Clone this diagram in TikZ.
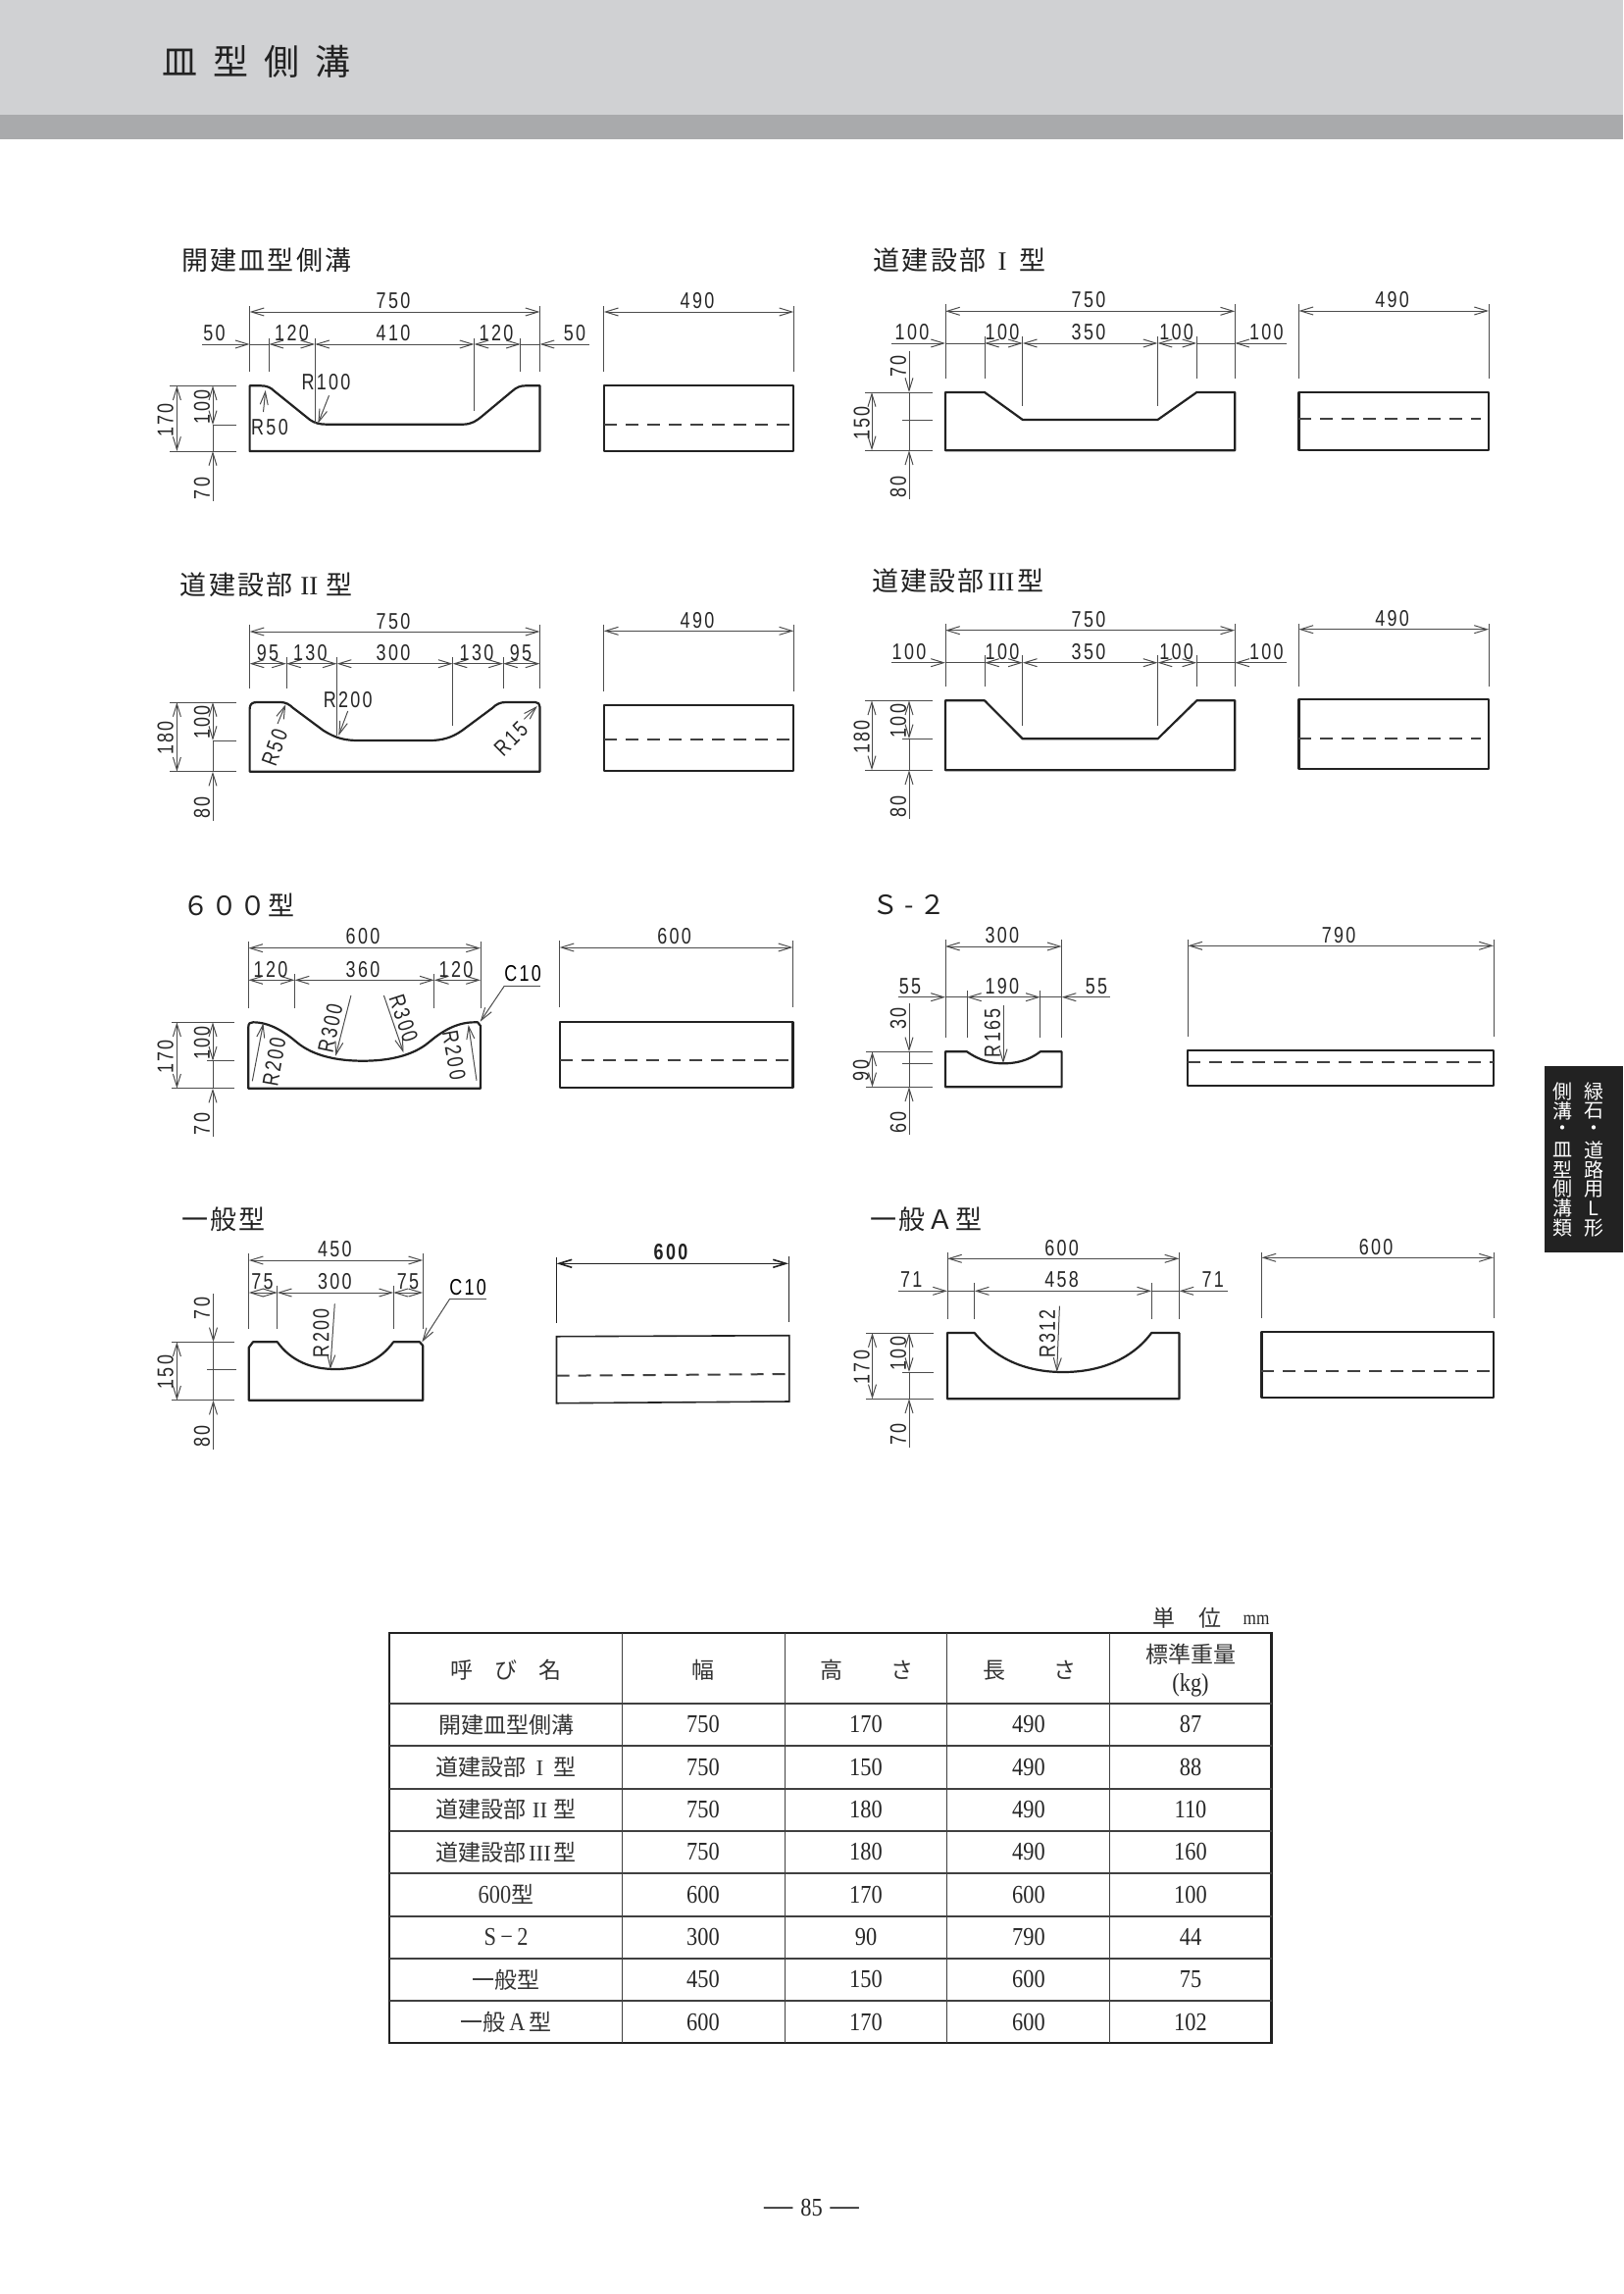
\documentclass[tikz,border=0pt]{standalone}
\usepackage{fontspec}
\usetikzlibrary{arrows.meta}
\newfontfamily\cjkfont{Noto Sans CJK JP}
\newfontfamily\headfont[LetterSpace=8]{Noto Sans CJK JP}
\newfontfamily\titlefont[LetterSpace=44]{Noto Sans CJK JP}
\newfontfamily\dimfont[FakeStretch=0.78,LetterSpace=10]{Liberation Sans}
\newfontfamily\tabfont[FakeStretch=0.86]{Liberation Serif}
\newfontfamily\romanfont{Liberation Serif}
\newcommand{\romnum}[1]{\makebox[1.25em]{\romanfont #1}}
\newcommand{\tabbig}[1]{{\fontsize{13}{13}\tabfont #1}}
\definecolor{BAND1}{HTML}{D0D1D3}
\definecolor{BAND2}{HTML}{A9AAAC}
\definecolor{INK}{HTML}{222222}
\tikzstyle{title} = [anchor=west, inner sep=0, font=\fontsize{18}{18}\titlefont, text=INK]
\tikzstyle{head} = [anchor=west, inner sep=0, font=\fontsize{13.5}{14}\headfont, text=INK]
\tikzstyle{dimtext} = [inner sep=0, font=\fontsize{11.5}{12}\dimfont, text=black!85]
\tikzstyle{tabcjk} = [inner sep=0, font=\fontsize{11.5}{12}\cjkfont, text=black!80]
\tikzstyle{tabnum} = [inner sep=0, font=\fontsize{13}{13}\tabfont, text=black!85]
\tikzstyle{tabtext} = [inner sep=0, font=\fontsize{10}{10}\cjkfont, text=white]
\tikzstyle{profile} = [line width=1.1pt, line join=round, draw=INK]
\tikzstyle{hidden} = [line width=1pt, draw=black!75, dash pattern=on 6.5pt off 4.5pt]
\tikzstyle{dim} = [line width=0.5pt, draw=black!70, >={Straight Barb[length=6.5pt,width=4pt]}]
\tikzstyle{arrow} = [dim, ->]
\tikzstyle{arrows2} = [dim, <->]
\tikzstyle{rule} = [line width=0.7pt, draw=black!75]
\tikzstyle{frame} = [line width=1.2pt, draw=INK]

\begin{document}
\begin{tikzpicture}[x=0.5pt, y=-0.5pt]

\useasboundingbox (0,0) rectangle (1655,2339);

\fill [BAND1] (0,0) rectangle (1655,117);
\fill [BAND2] (0,117) rectangle (1655,142);
\node (pagetitle) [title] at (165.5,63) {皿型側溝};

\fill [INK] (1574.5,1087) rectangle (1655,1277);
\foreach \c [count=\i] in {緑,石,・,道,路,用,L,形}
  \node (tabr\i) [tabtext] at (1625,{1093+19.9*\i}) {\c};
\foreach \c [count=\i] in {側,溝,・,皿,型,側,溝,類}
  \node (tabl\i) [tabtext] at (1593,{1093+19.9*\i}) {\c};

% 開建皿型側溝
\node (ahead) [head] at (185,265) {開建皿型側溝};
\draw [profile] (254.6,460) -- (254.6,393.3) -- (266,393.3) .. controls (272,393.3) and (276,395) .. (280,399) -- (316,428) .. controls (321,431.5) and (326,432.7) .. (333,432.7) -- (472,432.7) .. controls (481,432.7) and (486,429) .. (492,424) -- (522,399) .. controls (527,394.5) and (531,393.3) .. (536,393.3) -- (550.5,393.3) -- (550.5,460) -- cycle;
\draw [profile] (615.8,393.3) rectangle (809.3,460);
\draw [hidden] (615.8,432.5) -- (809.3,432.5);
\draw [dim] (254.6,312) -- (254.6,379);
\draw [dim] (550.5,312) -- (550.5,379);
\draw [dim] (274.3,345) -- (274.3,379);
\draw [dim] (321.2,345) -- (321.2,432);
\draw [dim] (483.5,345) -- (483.5,419);
\draw [dim] (530.8,345) -- (530.8,379);
\draw [dim] (615.8,312) -- (615.8,379);
\draw [dim] (809.3,312) -- (809.3,379);
\draw [arrows2] (254.6,318) -- (550.5,318);
\draw [arrows2] (615.8,318) -- (809.3,318);
\draw [arrow] (206,351) -- (254.6,351);
\draw [dim] (254.6,351) -- (274.3,351);
\draw [arrows2] (274.3,351) -- (321.2,351);
\draw [arrows2] (321.2,351) -- (483.5,351);
\draw [arrows2] (483.5,351) -- (530.8,351);
\draw [dim] (530.8,351) -- (550.5,351);
\draw [arrow] (600.6,351) -- (550.5,351);
\draw [dim] (173,393.3) -- (240.7,393.3);
\draw [dim] (217,433.3) -- (240.7,433.3);
\draw [dim] (173,460) -- (240.7,460);
\draw [arrows2] (180.4,393.3) -- (180.4,460);
\draw [arrows2] (217,393.3) -- (217,433.3);
\draw [dim] (217,433.3) -- (217,460);
\draw [arrow] (217,510.7) -- (217,460);
\draw [arrow] (335.5,403.3) -- (324.3,431.7);
\draw [arrow] (268.5,420) -- (270.7,398);
\node (a750) [dimtext] at (401,306.7) {750};
\node (a490) [dimtext] at (711,306.7) {490};
\node (a50l) [dimtext] at (218.4,340) {50};
\node (a120l) [dimtext] at (297.5,340) {120};
\node (a410) [dimtext] at (401,340) {410};
\node (a120r) [dimtext] at (506,340) {120};
\node (a50r) [dimtext] at (586,340) {50};
\node (a170) [dimtext, rotate=90] at (168.8,428.3) {170};
\node (a100) [dimtext, rotate=90] at (206,415) {100};
\node (a70) [dimtext, rotate=90] at (206,498) {70};
\node (aR100) [dimtext] at (332.4,389.3) {R100};
\node (aR50) [dimtext] at (275,436) {R50};

% 道建設部Ⅰ型
\node (bhead) [head] at (890.4,265) {道建設部\romnum{I}型};
\draw [profile] (964,459.3) -- (964,400) -- (1004,400) -- (1042.8,428) -- (1180.5,428) -- (1220.3,400) -- (1259.2,400) -- (1259.2,459.3) -- cycle;
\draw [profile] (1324.4,400) rectangle (1518,459);
\draw [hidden] (1324.4,427) -- (1510,427);
\draw [dim] (964,310) -- (964,386);
\draw [dim] (1259.2,310) -- (1259.2,386);
\draw [dim] (1004,343) -- (1004,386);
\draw [dim] (1042.8,343) -- (1042.8,414);
\draw [dim] (1180.5,343) -- (1180.5,414);
\draw [dim] (1220.3,343) -- (1220.3,386);
\draw [dim] (1324.4,310) -- (1324.4,386);
\draw [dim] (1518,310) -- (1518,386);
\draw [arrows2] (964,317.3) -- (1259.2,317.3);
\draw [arrows2] (1324.4,317) -- (1518,317);
\draw [arrow] (909,350) -- (964,350);
\draw [dim] (964,350) -- (1004,350);
\draw [arrows2] (1004,350) -- (1042.8,350);
\draw [arrows2] (1042.8,350) -- (1180.5,350);
\draw [arrows2] (1180.5,350) -- (1220.3,350);
\draw [dim] (1220.3,350) -- (1259.2,350);
\draw [arrow] (1311.5,350) -- (1259.2,350);
\draw [dim] (882,400) -- (950.7,400);
\draw [dim] (920,428.3) -- (950.7,428.3);
\draw [dim] (882,459.3) -- (950.7,459.3);
\draw [arrows2] (889,400) -- (889,459.3);
\draw [arrow] (927,358.3) -- (927,400);
\draw [dim] (927,400) -- (927,459.3);
\draw [arrow] (927,509) -- (927,459.3);
\node (b750) [dimtext] at (1110,306) {750};
\node (b490) [dimtext] at (1419.6,306) {490};
\node (b100a) [dimtext] at (930,339) {100};
\node (b100b) [dimtext] at (1022,339) {100};
\node (b350) [dimtext] at (1110,339) {350};
\node (b100c) [dimtext] at (1199.7,339) {100};
\node (b100d) [dimtext] at (1291.4,339) {100};
\node (b150) [dimtext, rotate=90] at (878.8,431.7) {150};
\node (b70) [dimtext, rotate=90] at (916,373.3) {70};
\node (b80) [dimtext, rotate=90] at (916,496.7) {80};

% 道建設部Ⅱ型
\node (chead) [head] at (183.5,596) {道建設部\romnum{II}型};
\draw [profile] (254.6,786.7) -- (254.6,723) .. controls (254.6,718) and (257,716) .. (262,716) -- (286,716) .. controls (291,716) and (295,718) .. (299,722) -- (330,745) .. controls (343,753) and (352,755) .. (366,755) -- (438,755) .. controls (451,755) and (461,752) .. (471,745) -- (502,722) .. controls (506,718) and (510,716) .. (516,716) -- (546,716) .. controls (549,716) and (550.5,718) .. (550.5,721) -- (550.5,786.7) -- cycle;
\draw [profile] (615.8,719) rectangle (809.3,786);
\draw [hidden] (615.8,754) -- (809.3,754);
\draw [dim] (254.6,636.7) -- (254.6,701.7);
\draw [dim] (550.5,636.7) -- (550.5,701.7);
\draw [dim] (292,670) -- (292,701.7);
\draw [dim] (343.6,670) -- (343.6,750);
\draw [dim] (461.6,670) -- (461.6,740);
\draw [dim] (513,670) -- (513,701.7);
\draw [dim] (615.8,636.7) -- (615.8,705);
\draw [dim] (809.3,636.7) -- (809.3,705);
\draw [arrows2] (254.6,644) -- (550.5,644);
\draw [arrows2] (615.8,643.3) -- (809.3,643.3);
\draw [arrows2] (254.6,676.7) -- (292,676.7);
\draw [arrows2] (292,676.7) -- (343.6,676.7);
\draw [arrows2] (343.6,676.7) -- (461.6,676.7);
\draw [arrows2] (461.6,676.7) -- (513,676.7);
\draw [arrows2] (513,676.7) -- (550.5,676.7);
\draw [dim] (173,716) -- (240.7,716);
\draw [dim] (217,755) -- (240.7,755);
\draw [dim] (173,786.7) -- (240.7,786.7);
\draw [arrows2] (180.4,716) -- (180.4,786.7);
\draw [arrows2] (217,716) -- (217,755);
\draw [dim] (217,755) -- (217,786.7);
\draw [arrow] (217,836.7) -- (217,786.7);
\draw [arrow] (354.7,725) -- (345.3,750);
\draw [arrow] (283,738) -- (291.3,718.3);
\draw [arrow] (534.4,733.3) -- (547.8,720);
\node (c750) [dimtext] at (401,633.3) {750};
\node (c490) [dimtext] at (711,632.3) {490};
\node (c95l) [dimtext] at (273,666) {95};
\node (c130l) [dimtext] at (316.3,666) {130};
\node (c300) [dimtext] at (401,666) {300};
\node (c130r) [dimtext] at (486,666) {130};
\node (c95r) [dimtext] at (531,666) {95};
\node (c180) [dimtext, rotate=90] at (168.8,752.3) {180};
\node (c100) [dimtext, rotate=90] at (206,736.7) {100};
\node (c80) [dimtext, rotate=90] at (206,823.3) {80};
\node (cR200) [dimtext] at (354.7,714) {R200};
\node (cR50) [dimtext, rotate=70] at (280,762) {R50};
\node (cR15) [dimtext, rotate=45] at (521,753.3) {R15};

% 道建設部Ⅲ型
\node (dhead) [head] at (889,592.7) {道建設部\romnum{III}型};
\draw [profile] (964,785.3) -- (964,714.3) -- (1004,714.3) -- (1042.8,753.3) -- (1180.5,753.3) -- (1220.3,714.3) -- (1259.2,714.3) -- (1259.2,785.3) -- cycle;
\draw [profile] (1324.4,713.3) rectangle (1518,784.3);
\draw [hidden] (1324.4,752.7) -- (1510,752.7);
\draw [dim] (964,636) -- (964,700);
\draw [dim] (1259.2,636) -- (1259.2,700);
\draw [dim] (1004,668) -- (1004,700);
\draw [dim] (1042.8,668) -- (1042.8,740);
\draw [dim] (1180.5,668) -- (1180.5,740);
\draw [dim] (1220.3,668) -- (1220.3,700);
\draw [dim] (1324.4,636) -- (1324.4,700);
\draw [dim] (1518,636) -- (1518,700);
\draw [arrows2] (964,642.7) -- (1259.2,642.7);
\draw [arrows2] (1324.4,641.7) -- (1518,641.7);
\draw [arrow] (909,675.7) -- (964,675.7);
\draw [dim] (964,675.7) -- (1004,675.7);
\draw [arrows2] (1004,675.7) -- (1042.8,675.7);
\draw [arrows2] (1042.8,675.7) -- (1180.5,675.7);
\draw [arrows2] (1180.5,675.7) -- (1220.3,675.7);
\draw [dim] (1220.3,675.7) -- (1259.2,675.7);
\draw [arrow] (1311.5,675.7) -- (1259.2,675.7);
\draw [dim] (882,714.3) -- (950.7,714.3);
\draw [dim] (920,753.3) -- (950.7,753.3);
\draw [dim] (882,785.3) -- (950.7,785.3);
\draw [arrows2] (889,714.3) -- (889,785.3);
\draw [arrows2] (927,714.3) -- (927,753.3);
\draw [dim] (927,753.3) -- (927,785.3);
\draw [arrow] (927,835) -- (927,785.3);
\node (d750) [dimtext] at (1110,631.7) {750};
\node (d490) [dimtext] at (1419.6,630.3) {490};
\node (d100a) [dimtext] at (927,664.3) {100};
\node (d100b) [dimtext] at (1022,664.3) {100};
\node (d350) [dimtext] at (1110,664.3) {350};
\node (d100c) [dimtext] at (1199.7,664.3) {100};
\node (d100d) [dimtext] at (1291.4,664.3) {100};
\node (d180) [dimtext, rotate=90] at (878.8,751.7) {180};
\node (d100) [dimtext, rotate=90] at (916,735) {100};
\node (d80) [dimtext, rotate=90] at (916,822.3) {80};

% ６００型
\node (ehead) [head] at (186,922.7) {６００型};
\draw [profile] (253.3,1109.7) -- (253.3,1047) .. controls (253.3,1043.5) and (255,1042.3) .. (258,1042.3) .. controls (275,1042.3) and (290,1052) .. (303,1063) .. controls (320,1077) and (345,1081.7) .. (370,1081.7) .. controls (395,1081.7) and (420,1077) .. (437,1063) .. controls (450,1052) and (465,1042.3) .. (484,1042.3) -- (487,1042.3) -- (490,1046) -- (490,1109.7) -- cycle;
\draw [profile] (570.6,1041.7) rectangle (808.4,1109);
\draw [hidden] (570.6,1081) -- (808.4,1081);
\draw [dim] (253.3,960) -- (253.3,1028.3);
\draw [dim] (490,960) -- (490,1028.3);
\draw [dim] (300.6,993.3) -- (300.6,1028.3);
\draw [dim] (442.8,993.3) -- (442.8,1028.3);
\draw [dim] (570.6,959.3) -- (570.6,1027.3);
\draw [dim] (808.4,959.3) -- (808.4,1027.3);
\draw [arrows2] (253.3,966.7) -- (490,966.7);
\draw [arrows2] (570.6,966) -- (808.4,966);
\draw [arrows2] (253.3,999.3) -- (300.6,999.3);
\draw [arrows2] (300.6,999.3) -- (442.8,999.3);
\draw [arrows2] (442.8,999.3) -- (490,999.3);
\draw [dim] (174.6,1042.3) -- (238.5,1042.3);
\draw [dim] (211,1081.7) -- (238.5,1081.7);
\draw [dim] (174.6,1109.7) -- (238.5,1109.7);
\draw [arrows2] (180.4,1042.3) -- (180.4,1109.7);
\draw [arrows2] (217,1042.3) -- (217,1081.7);
\draw [dim] (217,1081.7) -- (217,1109.7);
\draw [arrow] (217,1159) -- (217,1109.7);
\draw [dim] (514.3,1005.3) -- (551,1005.3);
\draw [arrow] (514.3,1005.3) -- (489.7,1041.7);
\draw [arrow] (257.3,1102.3) -- (268.5,1043.3);
\draw [arrow] (357.9,1015) -- (342.2,1076.7);
\draw [arrow] (391.4,1015) -- (411.5,1073.3);
\draw [arrow] (486,1101.7) -- (477.7,1045);
\node (e600a) [dimtext] at (370,955) {600};
\node (e600b) [dimtext] at (687.7,954.3) {600};
\node (e120l) [dimtext] at (276,988.3) {120};
\node (e360) [dimtext] at (370,988.3) {360};
\node (e120r) [dimtext] at (465,988.3) {120};
\node (eC10) [dimtext, text=black] at (533,992.7) {C10};
\node (e170) [dimtext, rotate=90] at (168.8,1077.7) {170};
\node (e100) [dimtext, rotate=90] at (206,1063.3) {100};
\node (e70) [dimtext, rotate=90] at (206,1146) {70};
\node (eR200l) [dimtext, rotate=80] at (279.6,1082.7) {R200};
\node (eR300l) [dimtext, rotate=78] at (336.8,1048.3) {R300};
\node (eR300r) [dimtext, rotate=-72] at (411.5,1038.3) {R300};
\node (eR200r) [dimtext, rotate=-80] at (463,1076) {R200};

% Ｓ－２
\node (fhead) [head] at (889,923) {Ｓ\hspace{3pt}-\hspace{3pt}\makebox[1em]{２}};
\draw [profile] (964,1108.3) -- (964,1072.3) -- (986,1072.3) .. controls (1000,1082) and (1012,1084.3) .. (1023,1084.3) .. controls (1035,1084.3) and (1048,1082) .. (1060.7,1072.3) -- (1082.6,1072.3) -- (1082.6,1108.3) -- cycle;
\draw [profile] (1211.3,1071.3) rectangle (1523,1107.3);
\draw [hidden] (1211.3,1083.3) -- (1523,1083.3);
\draw [dim] (964,958.3) -- (964,1058.3);
\draw [dim] (1082.6,958.3) -- (1082.6,1058.3);
\draw [dim] (986,1010) -- (986,1058.3);
\draw [dim] (1060.7,1010) -- (1060.7,1058.3);
\draw [dim] (1211.3,958.3) -- (1211.3,1057.3);
\draw [dim] (1523,958.3) -- (1523,1057.3);
\draw [arrows2] (964,965) -- (1082.6,965);
\draw [arrows2] (1211.3,964.3) -- (1523,964.3);
\draw [arrow] (916,1016.7) -- (964,1016.7);
\draw [dim] (964,1016.7) -- (986,1016.7);
\draw [arrows2] (986,1016.7) -- (1060.7,1016.7);
\draw [dim] (1060.7,1016.7) -- (1082.6,1016.7);
\draw [arrow] (1131.8,1016.7) -- (1082.6,1016.7);
\draw [dim] (883,1072.3) -- (950.7,1072.3);
\draw [dim] (920,1084.3) -- (950.7,1084.3);
\draw [dim] (883,1108.3) -- (950.7,1108.3);
\draw [arrows2] (889.5,1072.3) -- (889.5,1108.3);
\draw [arrow] (927,1023.3) -- (927,1072.3);
\draw [dim] (927,1072.3) -- (927,1108.3);
\draw [arrow] (927,1157.3) -- (927,1108.3);
\draw [arrow] (1023,1025) -- (1023,1084.3);
\node (f300) [dimtext] at (1021.8,954) {300};
\node (f790) [dimtext] at (1365,953.3) {790};
\node (f55l) [dimtext] at (928,1005.7) {55};
\node (f190) [dimtext] at (1021.8,1005.7) {190};
\node (f55r) [dimtext] at (1118,1005.7) {55};
\node (f30) [dimtext, rotate=90] at (916,1038.3) {30};
\node (f90) [dimtext, rotate=90] at (878,1091.7) {90};
\node (f60) [dimtext, rotate=90] at (916,1144.3) {60};
\node (fR165) [dimtext, rotate=90] at (1012,1053.3) {R165};

% 一般型
\node (ghead) [head] at (185,1243) {一般型};
\draw [profile] (253.7,1427.7) -- (253.7,1374) -- (258,1368.3) -- (282.8,1368.3) .. controls (297,1388) and (318,1396) .. (342,1396) .. controls (366,1396) and (387,1388) .. (401.2,1368.3) -- (428,1368.3) -- (431.2,1372) -- (431.2,1427.7) -- cycle;
\draw [line width=0.8pt, draw=INK] (567.5,1362.7) -- (804.9,1361.7) -- (804.9,1429) -- (567.5,1430.7) -- cycle;
\draw [hidden] (567.5,1402.7) -- (804.9,1401);
\draw [dim] (253.7,1278.3) -- (253.7,1355);
\draw [dim] (431.2,1278.3) -- (431.2,1355);
\draw [dim] (282.8,1310.7) -- (282.8,1355);
\draw [dim] (401.2,1310.7) -- (401.2,1355);
\draw [dim, draw=INK] (567.5,1282.3) -- (567.5,1349.3);
\draw [dim, draw=INK] (804,1281) -- (804,1347.7);
\draw [arrows2] (253.7,1285) -- (431.2,1285);
\draw [arrows2, line width=0.8pt, draw=INK] (567.5,1288.3) -- (804,1288.3);
\draw [arrows2] (253.7,1318) -- (282.8,1318);
\draw [arrows2] (282.8,1318) -- (401.2,1318);
\draw [arrows2] (401.2,1318) -- (431.2,1318);
\draw [dim] (174.6,1368.3) -- (239.4,1368.3);
\draw [dim] (211,1396) -- (240.7,1396);
\draw [dim] (174.6,1427.7) -- (239.4,1427.7);
\draw [arrows2] (180.4,1368.3) -- (180.4,1427.7);
\draw [arrow] (217.5,1319.3) -- (217.5,1368.3);
\draw [dim] (217.5,1368.3) -- (217.5,1427.7);
\draw [arrow] (217.5,1478.3) -- (217.5,1427.7);
\draw [dim] (458.4,1324.7) -- (496.4,1324.7);
\draw [arrow] (458.4,1324.7) -- (430.3,1368.3);
\draw [arrow] (341.3,1329.3) -- (336.8,1396);
\node (g450) [dimtext] at (341.3,1274) {450};
\node (g600) [dimtext, font=\fontsize{11.5}{12}\bfseries\dimfont, text=INK] at (684,1276.7) {600};
\node (g75l) [dimtext] at (267.6,1306.7) {75};
\node (g300) [dimtext] at (341.3,1306.7) {300};
\node (g75r) [dimtext] at (416,1306.7) {75};
\node (gC10) [dimtext, text=black] at (477.2,1312.3) {C10};
\node (g150) [dimtext, rotate=90] at (168.8,1399) {150};
\node (g70) [dimtext, rotate=90] at (206,1334) {70};
\node (g80) [dimtext, rotate=90] at (206,1464.3) {80};
\node (gR200) [dimtext, rotate=90] at (327.5,1359.3) {R200};

% 一般Ａ型
\node (hhead) [head] at (887,1243) {一般Ａ型};
\draw [profile] (966,1426.3) -- (966,1359) -- (993.7,1359) .. controls (1015,1385) and (1045,1399) .. (1084,1399) .. controls (1123,1399) and (1155,1385) .. (1174.2,1359) -- (1202.4,1359) -- (1202.4,1426.3) -- cycle;
\draw [profile] (1286.4,1357.7) rectangle (1523,1425.3);
\draw [hidden] (1286.4,1397.7) -- (1523,1397.7);
\draw [dim] (966,1276.7) -- (966,1345);
\draw [dim] (1202.4,1276.7) -- (1202.4,1345);
\draw [dim] (993.7,1308.3) -- (993.7,1345);
\draw [dim] (1174.2,1308.3) -- (1174.2,1345);
\draw [dim] (1286.4,1276.7) -- (1286.4,1344);
\draw [dim] (1523,1276.7) -- (1523,1344);
\draw [arrows2] (966,1283.3) -- (1202.4,1283.3);
\draw [arrows2] (1286.4,1282.3) -- (1523,1282.3);
\draw [arrow] (916,1316.3) -- (966,1316.3);
\draw [dim] (966,1316.3) -- (993.7,1316.3);
\draw [arrows2] (993.7,1316.3) -- (1174.2,1316.3);
\draw [dim] (1174.2,1316.3) -- (1202.4,1316.3);
\draw [arrow] (1252,1316.3) -- (1202.4,1316.3);
\draw [dim] (883,1359) -- (951.6,1359);
\draw [dim] (920,1399) -- (951.6,1399);
\draw [dim] (883,1426.3) -- (951.6,1426.3);
\draw [arrows2] (889.5,1359) -- (889.5,1426.3);
\draw [arrows2] (927,1359) -- (927,1399);
\draw [dim] (927,1399) -- (927,1426.3);
\draw [arrow] (927,1476) -- (927,1426.3);
\draw [arrow] (1080.4,1331.7) -- (1077.7,1399);
\node (h600a) [dimtext] at (1082.6,1272.3) {600};
\node (h600b) [dimtext] at (1403,1271.7) {600};
\node (h71l) [dimtext] at (929.3,1305) {71};
\node (h458) [dimtext] at (1082.6,1305) {458};
\node (h71r) [dimtext] at (1236.8,1305) {71};
\node (h170) [dimtext, rotate=90] at (878.8,1394) {170};
\node (h100) [dimtext, rotate=90] at (916,1380) {100};
\node (h70) [dimtext, rotate=90] at (916,1462.7) {70};
\node (hR312) [dimtext, rotate=90] at (1067.9,1360) {R312};

% table
\node (unit) [tabcjk] at (1210,1650) {単\hspace{12pt}位};
\node (unitmm) [tabnum, font=\fontsize{10}{10}\tabfont] at (1281,1652) {mm};
\draw [frame] (397,1665) rectangle (1296.5,2083);
\foreach \x in {634,800,965.6,1131}
  \draw [rule, line width=0.5pt] (\x,1665) -- (\x,2083);
\foreach \y in {1737,1780,1824,1867,1910,1954,1997,2040}
  \draw [rule] (397,\y) -- (1296.5,\y);
\node (hname) [tabcjk] at (516,1703) {呼\hspace{11pt}び\hspace{11pt}名};
\node (hwid) [tabcjk] at (717,1703) {幅};
\node (hhgt) [tabcjk] at (884,1703) {高\hspace{24.5pt}さ};
\node (hlen) [tabcjk] at (1050,1703) {長\hspace{24.5pt}さ};
\node (hkg) [tabcjk] at (1214,1687) {標準重量};
\node (hkgu) [tabnum] at (1214,1718) {(kg)};
\foreach \rname/\rwid/\rhgt/\rlen/\rkg [count=\i] in {
    開建皿型側溝/750/170/490/87,
    道建設部\romnum{I}型/750/150/490/88,
    道建設部\romnum{II}型/750/180/490/110,
    道建設部\romnum{III}型/750/180/490/160,
    \tabbig{600}型/600/170/600/100,
    \tabbig{S\,−\,2}/300/90/790/44,
    一般型/450/150/600/75,
    一般\tabbig{\,A\,}型/600/170/600/102}
{
  \node (name\i) [tabcjk] at (516,{1715+43.35*\i}) {\rname};
  \node (wid\i) [tabnum] at (717,{1715+43.35*\i}) {\rwid};
  \node (hgt\i) [tabnum] at (883,{1715+43.35*\i}) {\rhgt};
  \node (len\i) [tabnum] at (1049,{1715+43.35*\i}) {\rlen};
  \node (kg\i) [tabnum] at (1214,{1715+43.35*\i}) {\rkg};
}

\node (pageno) [tabnum] at (827.5,2251) {{\fontsize{17}{17}\tabfont —}\hspace{4pt}85\hspace{4pt}{\fontsize{17}{17}\tabfont —}};

\end{tikzpicture}
\end{document}
